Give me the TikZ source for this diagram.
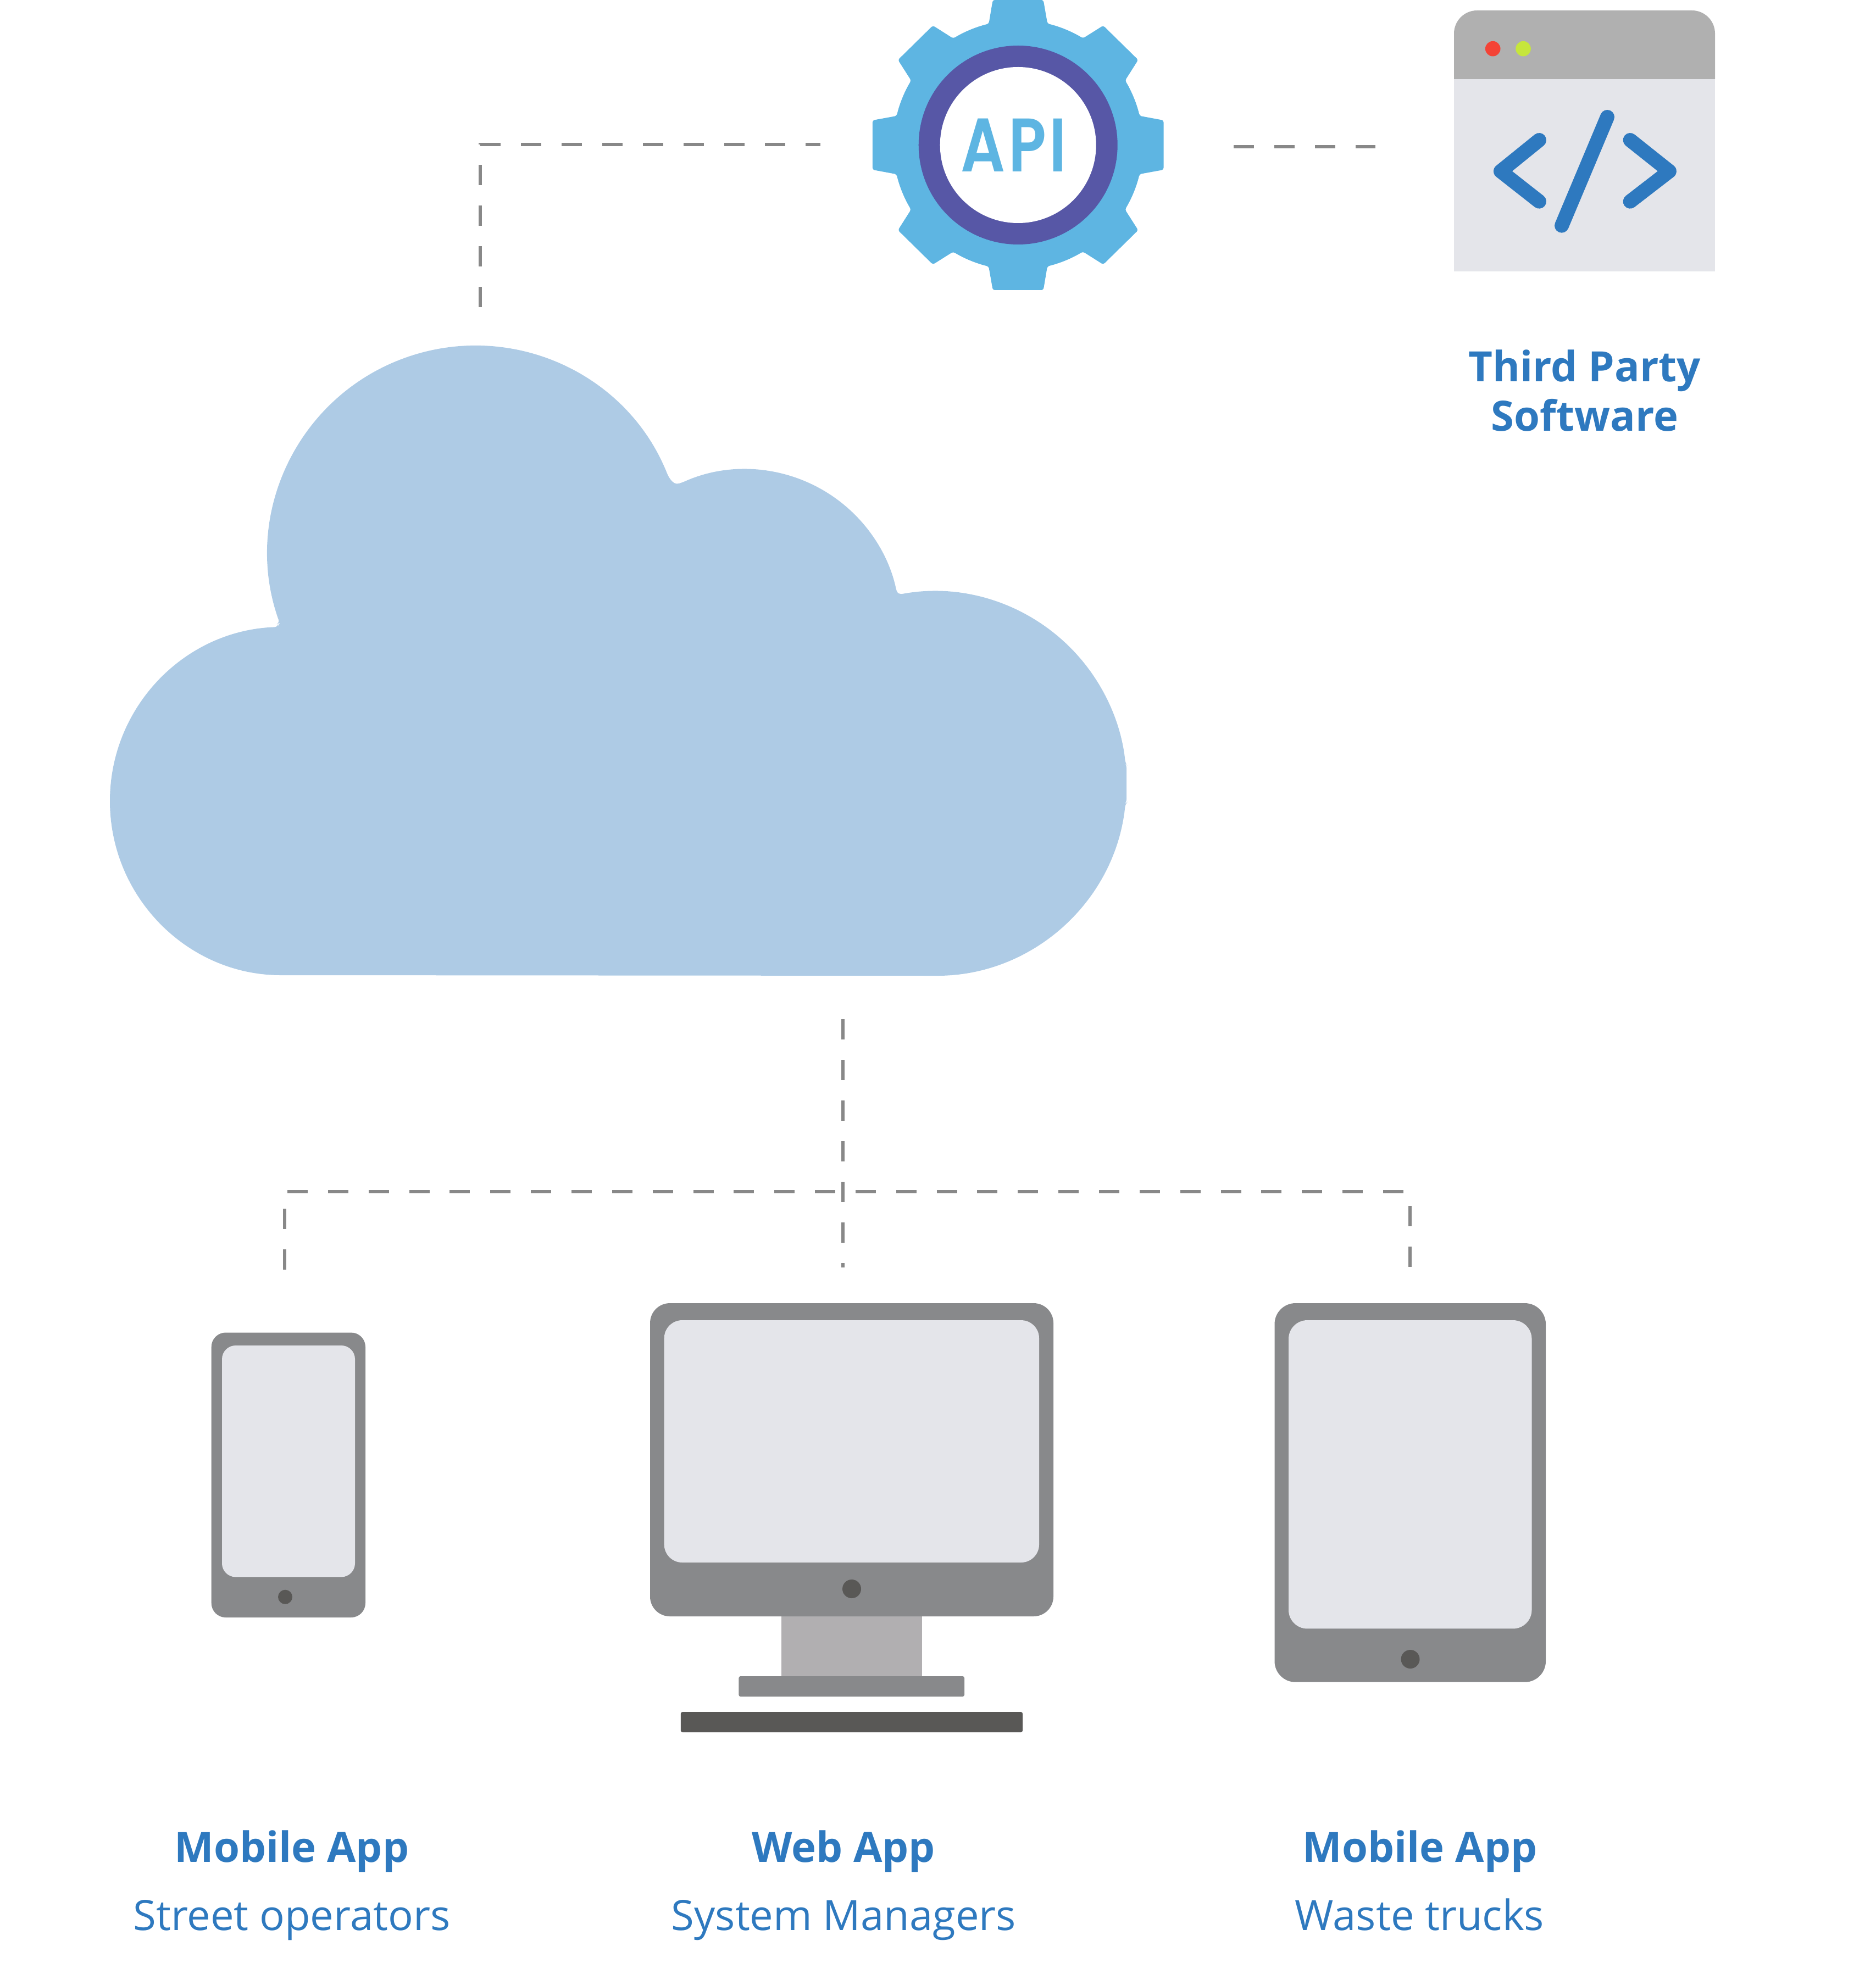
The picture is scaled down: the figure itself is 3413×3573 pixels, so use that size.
\documentclass[tikz,border=0pt]{standalone}
\usepackage{fontspec}
\setmainfont{Open Sans}
\newfontfamily\apifont[FakeStretch=0.82,LetterSpace=4]{Poppins SemiBold}
\definecolor{cloudc}{HTML}{AECBE5}
\definecolor{gearc}{HTML}{5EB5E2}
\definecolor{ringc}{HTML}{5757A6}
\definecolor{bluec}{HTML}{2E79BF}
\definecolor{devc}{HTML}{88898B}
\definecolor{screenc}{HTML}{E4E5EA}
\definecolor{btnc}{HTML}{595856}
\definecolor{standc}{HTML}{B1AFB1}
\definecolor{headc}{HTML}{B0B0B0}
\definecolor{redc}{HTML}{F44336}
\definecolor{limec}{HTML}{C6E63C}
\definecolor{dashc}{HTML}{888888}
\tikzset{
  link/.style={draw=dashc,line width=1.5pt,dash pattern=on 9.25pt off 9.25pt,line join=miter},
  code/.style={draw=bluec,line width=6.5pt,line cap=round,line join=round},
  title/.style={anchor=base,text=bluec,font=\fontsize{19}{19}\selectfont\bfseries,inner sep=0pt},
  sub/.style={anchor=base,text=bluec,font=\fontsize{19}{19}\selectfont,inner sep=0pt},
}
\begin{document}
\begin{tikzpicture}[x=0.25pt,y=0.25pt]
\useasboundingbox (0,-3573) rectangle (3413,0);
% cloud
\fill[cloudc,rounded corners=1.5pt]
  (517,-1775) arc[start angle=270,end angle=92,radius=317]
  -- (506,-1135)
  -- ([shift={(865,-1007)}]199.6:378) arc[start angle=199.6,end angle=21.7,radius=378]
  .. controls (1224,-878) and (1229,-882) .. ([shift={(1356,-1136)}]114:282) arc[start angle=114,end angle=11.9,radius=282]
  -- (1636,-1082)
  -- ([shift={(1700,-1426)}]98.4:350) arc[start angle=98.4,end angle=6,radius=350]
  -- (2050,-1392) -- (2050,-1461)
  -- ([shift={(1700,-1426)}]-6:350) arc[start angle=-6,end angle=-90,radius=350]
  -- cycle;
% gear
\begin{scope}[shift={(1852.7,-264)}]
\fill[gearc,rounded corners=0.9pt]
  (-46,264) -- (46,264) -- (53.5,221) arc[start angle=76.4,end angle=58.7,radius=227.4]
  -- (155,217.5) -- (218.6,155) -- (194.8,117.5) arc[start angle=31.1,end angle=13.5,radius=227.4]
  -- (264.8,45) -- (264.8,-45) -- (221,-53) arc[start angle=-13.5,end angle=-31.1,radius=227.4]
  -- (218.6,-155) -- (155,-217.5) -- (118,-194) arc[start angle=-58.7,end angle=-76.4,radius=227.4]
  -- (46,-264) -- (-46,-264) -- (-53.5,-221) arc[start angle=-103.6,end angle=-121.3,radius=227.4]
  -- (-155,-217.5) -- (-218.6,-155) -- (-194.8,-117.5) arc[start angle=-148.9,end angle=-166.5,radius=227.4]
  -- (-264.8,-45) -- (-264.8,45) -- (-221,53) arc[start angle=166.5,end angle=148.9,radius=227.4]
  -- (-218.6,155) -- (-155,217.5) -- (-118,194) arc[start angle=121.3,end angle=103.6,radius=227.4]
  -- cycle;
\fill[ringc] (0,0) circle[radius=181];
\fill[white] (0,0) circle[radius=142];
\end{scope}
\node[inner sep=0pt,text=gearc,font=\apifont\fontsize{34.5}{34.5}\selectfont] (api) at (1845,-264) {API};
% window
\fill[screenc] (2646,-144) rectangle (3121,-494);
\fill[headc] (2646,-144) -- (2646,-61) arc[start angle=180,end angle=90,radius=42] -- (3079,-19) arc[start angle=90,end angle=0,radius=42] -- (3121,-144) -- cycle;
\fill[redc] (2716.7,-88.7) circle[radius=13.8];
\fill[limec] (2772,-88.7) circle[radius=13.8];
\draw[code] (2801,-255) -- (2731,-311.7) -- (2801,-366.7);
\draw[code] (2966.6,-255) -- (3037.8,-311.7) -- (2966.6,-366.7);
\draw[code] (2925,-213) -- (2842,-410.7);
% phone
\fill[devc,rounded corners=6.5pt] (384.7,-2425.5) rectangle (665,-2944);
\fill[screenc,rounded corners=6.2pt] (404,-2449) rectangle (646,-2870.4);
\fill[btnc] (519,-2906.7) circle[radius=13];
% monitor
\fill[standc] (1422,-2930) rectangle (1677.5,-3051);
\fill[devc,rounded corners=9pt] (1183,-2372) rectangle (1917,-2942);
\fill[screenc,rounded corners=8.2pt] (1208.7,-2403) rectangle (1891,-2844);
\fill[btnc] (1550,-2892) circle[radius=17];
\fill[devc,rounded corners=0.8pt] (1344.4,-3051) rectangle (1755,-3088);
\fill[btnc,rounded corners=0.8pt] (1238.8,-3116) rectangle (1861,-3153);
% tablet
\fill[devc,rounded corners=9.5pt] (2319.5,-2372) rectangle (2813,-3061.7);
\fill[screenc,rounded corners=8.5pt] (2345,-2403) rectangle (2787.5,-2964.4);
\fill[btnc] (2566.5,-3020) circle[radius=17];
% connector ends
\coordinate (cloudTop) at (874,-559);
\coordinate (topCorner) at (874,-263);
\coordinate (gearLeft) at (1493,-263);
\coordinate (gearRight) at (2245,-267);
\coordinate (windowLeft) at (2503,-267);
\coordinate (cloudBottom) at (1533.5,-1855);
\coordinate (monitorTop) at (1533.5,-2307);
\coordinate (busLeft) at (523,-2169);
\coordinate (busRight) at (2554,-2169);
\coordinate (phoneDropTop) at (518,-2200);
\coordinate (phoneDropEnd) at (518,-2311);
\coordinate (tabletDropTop) at (2566,-2195);
\coordinate (tabletDropEnd) at (2566,-2306);
\draw[link] (cloudTop) -- (topCorner) -- (gearLeft);
\draw[link] (gearRight) -- (windowLeft);
\draw[link] (cloudBottom) -- (monitorTop);
\draw[link,dash pattern=on 9.25pt off 9.2125pt] (busLeft) -- (busRight);
\draw[link] (phoneDropTop) -- (phoneDropEnd);
\draw[link] (tabletDropTop) -- (tabletDropEnd);
% labels
\node[title] (tp1) at (2884,-694.5) {Third Party};
\node[title] (tp2) at (2884,-785) {Software};
\node[title] (m1) at (531,-3389) {Mobile App};
\node[sub] (m1s) at (531,-3513.5) {Street operators};
\node[title] (w) at (1535,-3389) {Web App};
\node[sub] (ws) at (1535.5,-3513.5) {System Managers};
\node[title] (m2) at (2584,-3389) {Mobile App};
\node[sub] (m2s) at (2583.5,-3513.5) {Waste trucks};
\end{tikzpicture}
\end{document}
